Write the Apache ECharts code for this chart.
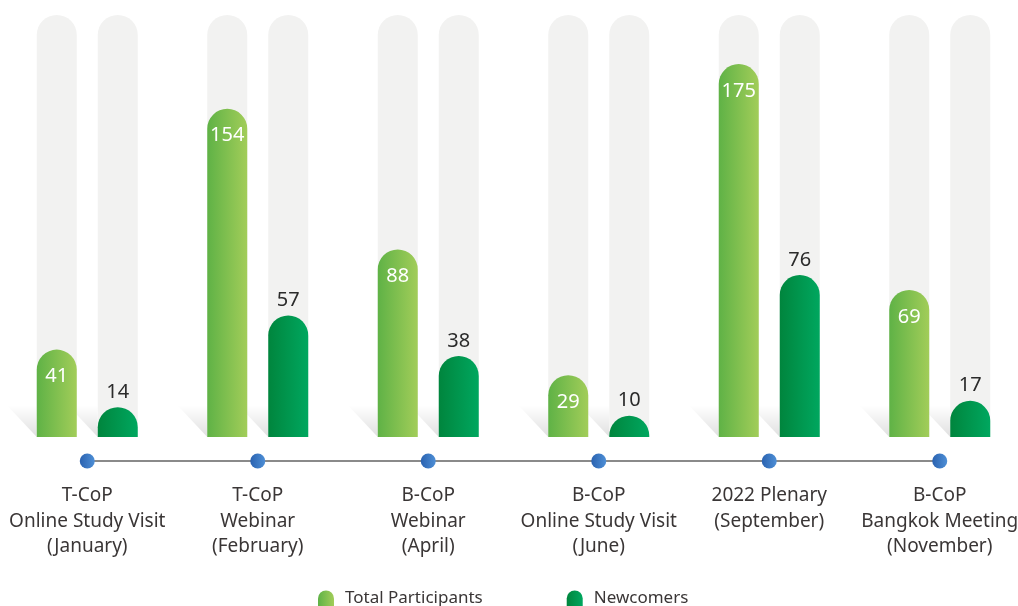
<!DOCTYPE html>
<html>
<head>
<meta charset="utf-8">
<script src="https://cdn.jsdelivr.net/npm/echarts@6/dist/echarts.min.js"></script>
<style>
  html, body { margin: 0; padding: 0; background: #fff; }
  #chart { width: 1018px; height: 606px; }
</style>
</head>
<body>
<div id="chart"></div>
<script>
// 活动名称
const events = [
    'T-CoP\nOnline Study Visit\n(January)',
    'T-CoP\nWebinar\n(February)',
    'B-CoP\nWebinar\n(April)',
    'B-CoP\nOnline Study Visit\n(June)',
    '2022 Plenary\n(September)',
    'B-CoP\nBangkok Meeting\n(November)',
];
const totalParticipants = [41, 154, 88, 29, 175, 69];
const newcomers = [14, 57, 38, 10, 76, 17];
const timelineDots = [0, 0, 0, 0, 0, 0];

const BAR_W = 40;
const BAR_GAP = 21;
const textFont = '"Noto Sans", "Open Sans", sans-serif';

const lightGreen = new echarts.graphic.LinearGradient(0, 0, 1, 0, [
    { offset: 0, color: '#5fb246' },
    { offset: 1, color: '#a2cd59' },
]);
const darkGreen = new echarts.graphic.LinearGradient(0, 0, 1, 0, [
    { offset: 0, color: '#00853d' },
    { offset: 1, color: '#00a75f' },
]);
const blueDot = new echarts.graphic.LinearGradient(0, 0, 1, 0, [
    { offset: 0, color: '#2a62b0' },
    { offset: 1, color: '#4e8fd6' },
]);

// 柱子左下角的斜向阴影
function shadowRenderer(shift) {
    return function (params, api) {
        const base = api.coord([api.value(0), 0]);
        const left = base[0] + shift - BAR_W / 2;
        const bottom = base[1];
        const h = 32;
        return {
            type: 'polygon',
            shape: { points: [[left, bottom], [left, bottom - h], [left - 30, bottom - h]] },
            style: {
                fill: new echarts.graphic.LinearGradient(0, 0, 0, 1, [
                    { offset: 0, color: 'rgba(0,0,0,0)' },
                    { offset: 1, color: 'rgba(0,0,0,0.12)' },
                ]),
            },
        };
    };
}

const chart = echarts.init(document.getElementById('chart'));
const halfStep = (BAR_W + BAR_GAP) / 2;

const option = {
    animation: false,
    grid: [
        { left: 2, width: 1023, top: 15, bottom: 169, outerBoundsMode: 'none', containLabel: false },
        { left: 2, width: 1023, top: 454, height: 14, outerBoundsMode: 'none', containLabel: false },
    ],
    xAxis: [
        {
            type: 'category',
            data: events,
            gridIndex: 0,
            axisLine: { show: false },
            axisTick: { show: false },
            axisLabel: { show: false },
        },
        {
            type: 'category',
            data: events,
            gridIndex: 1,
            axisLine: { show: false },
            axisTick: { show: false },
            axisLabel: {
                interval: 0,
                margin: 15,
                color: '#3a3636',
                fontSize: 19,
                lineHeight: 25.5,
                fontFamily: textFont,
            },
        },
    ],
    yAxis: [
        { type: 'value', gridIndex: 0, min: 0, max: 198, show: false },
        { type: 'value', gridIndex: 1, min: -1, max: 1, show: false },
    ],
    legend: {
        left: 313,
        top: 585,
        itemGap: 84,
        itemWidth: 16,
        itemHeight: 16,
        textStyle: { fontSize: 17, color: '#3a3636', fontFamily: textFont, padding: [0, 0, 0, 6] },
        data: [
            { name: 'Total Participants', icon: 'path://M0,8A8,8 0 0 1 16,8L16,16L0,16Z', itemStyle: { color: lightGreen } },
            { name: 'Newcomers', icon: 'path://M0,8A8,8 0 0 1 16,8L16,16L0,16Z', itemStyle: { color: darkGreen } },
        ],
    },
    series: [
        {
            type: 'custom',
            xAxisIndex: 0,
            yAxisIndex: 0,
            z: 1,
            silent: true,
            renderItem: shadowRenderer(-halfStep),
            data: totalParticipants.map((v, i) => [i, v]),
        },
        {
            type: 'custom',
            xAxisIndex: 0,
            yAxisIndex: 0,
            z: 1,
            silent: true,
            renderItem: shadowRenderer(halfStep),
            data: newcomers.map((v, i) => [i, v]),
        },
        {
            name: 'Total Participants',
            type: 'bar',
            xAxisIndex: 0,
            yAxisIndex: 0,
            barWidth: BAR_W,
            barGap: (BAR_GAP / BAR_W * 100) + '%',
            z: 3,
            data: totalParticipants,
            showBackground: true,
            backgroundStyle: { color: '#f2f2f1', borderRadius: [20, 20, 0, 0] },
            itemStyle: { color: lightGreen, borderRadius: [20, 20, 0, 0] },
            label: {
                show: true,
                position: 'insideTop',
                distance: 17,
                color: '#ffffff',
                fontSize: 20,
                fontFamily: textFont,
            },
        },
        {
            name: 'Newcomers',
            type: 'bar',
            xAxisIndex: 0,
            yAxisIndex: 0,
            barWidth: BAR_W,
            z: 3,
            data: newcomers,
            showBackground: true,
            backgroundStyle: { color: '#f2f2f1', borderRadius: [20, 20, 0, 0] },
            itemStyle: { color: darkGreen, borderRadius: [20, 20, 0, 0] },
            label: {
                show: true,
                position: 'top',
                distance: 5,
                color: '#2b2b2b',
                fontSize: 20,
                fontFamily: textFont,
            },
        },
        {
            type: 'line',
            xAxisIndex: 1,
            yAxisIndex: 1,
            data: timelineDots,
            symbol: 'circle',
            symbolSize: 15,
            itemStyle: { color: blueDot },
            lineStyle: { color: '#8a8a8a', width: 2 },
            silent: true,
        },
    ],
};

chart.setOption(option);
</script>
</body>
</html>
